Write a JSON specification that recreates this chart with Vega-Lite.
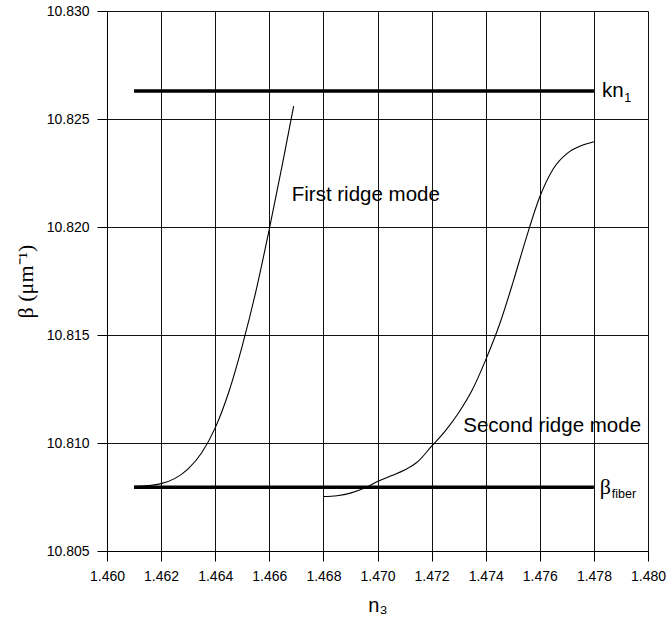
{
  "$schema": "https://vega.github.io/schema/vega-lite/v6.json",
  "width": 541,
  "height": 540,
  "autosize": {"type": "none"},
  "padding": {"left": 107, "top": 11, "right": 22, "bottom": 78},
  "background": "white",
  "config": {
    "view": {"stroke": null},
    "axis": {
      "domainColor": "black",
      "domainWidth": 1,
      "tickColor": "black",
      "tickSize": 10,
      "tickWidth": 1,
      "gridColor": "#111",
      "gridWidth": 1,
      "gridOpacity": 1,
      "labelFont": "Liberation Sans",
      "labelFontSize": 14,
      "labelColor": "black",
      "labelPadding": 8,
      "labelFlush": false,
      "labelOverlap": false,
      "titleColor": "black",
      "titleFontWeight": "normal"
    }
  },
  "datasets": {
    "curves": [
      {"series": "kn1", "x": 1.461, "y": 10.8263},
      {"series": "kn1", "x": 1.478, "y": 10.8263},
      {"series": "fiber", "x": 1.461, "y": 10.80795},
      {"series": "fiber", "x": 1.478, "y": 10.80795},
      {"series": "first", "x": 1.4610, "y": 10.80800},
      {"series": "first", "x": 1.4615, "y": 10.80803},
      {"series": "first", "x": 1.4620, "y": 10.80812},
      {"series": "first", "x": 1.4625, "y": 10.80835},
      {"series": "first", "x": 1.4630, "y": 10.80880},
      {"series": "first", "x": 1.4635, "y": 10.80955},
      {"series": "first", "x": 1.4640, "y": 10.81070},
      {"series": "first", "x": 1.4645, "y": 10.81235},
      {"series": "first", "x": 1.4650, "y": 10.81450},
      {"series": "first", "x": 1.4655, "y": 10.81700},
      {"series": "first", "x": 1.4660, "y": 10.81990},
      {"series": "first", "x": 1.4665, "y": 10.82300},
      {"series": "first", "x": 1.4669, "y": 10.82560},
      {"series": "second", "x": 1.4680, "y": 10.80752},
      {"series": "second", "x": 1.4685, "y": 10.80756},
      {"series": "second", "x": 1.4690, "y": 10.80768},
      {"series": "second", "x": 1.4695, "y": 10.80790},
      {"series": "second", "x": 1.4700, "y": 10.80822},
      {"series": "second", "x": 1.4705, "y": 10.80848},
      {"series": "second", "x": 1.4710, "y": 10.80875},
      {"series": "second", "x": 1.4715, "y": 10.80915},
      {"series": "second", "x": 1.4720, "y": 10.80985},
      {"series": "second", "x": 1.4725, "y": 10.81055},
      {"series": "second", "x": 1.4730, "y": 10.81140},
      {"series": "second", "x": 1.4735, "y": 10.81245},
      {"series": "second", "x": 1.4740, "y": 10.81385},
      {"series": "second", "x": 1.4745, "y": 10.81545},
      {"series": "second", "x": 1.4750, "y": 10.81740},
      {"series": "second", "x": 1.4755, "y": 10.81950},
      {"series": "second", "x": 1.4760, "y": 10.82140},
      {"series": "second", "x": 1.4765, "y": 10.82270},
      {"series": "second", "x": 1.4770, "y": 10.82340},
      {"series": "second", "x": 1.4775, "y": 10.82375},
      {"series": "second", "x": 1.4780, "y": 10.82395}
    ],
    "labels": [
      {"label": "kn", "x": 1.4783, "y": 10.8263},
      {"label": "First ridge mode", "x": 1.46683, "y": 10.82148},
      {"label": "Second ridge mode", "x": 1.47317, "y": 10.8108}
    ],
    "beta": [
      {"label": "β", "x": 1.47822, "y": 10.80795}
    ],
    "subs": [
      {"label": "1", "x": 1.47912, "y": 10.8263},
      {"label": "fiber", "x": 1.47866, "y": 10.80795}
    ]
  },
  "encoding": {
    "x": {
      "field": "x",
      "type": "quantitative",
      "scale": {"domain": [1.46, 1.48], "nice": false, "zero": false},
      "axis": {
        "values": [1.46, 1.462, 1.464, 1.466, 1.468, 1.47, 1.472, 1.474, 1.476, 1.478, 1.48],
        "format": ".3f",
        "grid": true,
        "title": "n₃",
        "titleFont": "Liberation Sans",
        "titleFontSize": 20,
        "titlePadding": 12
      }
    },
    "y": {
      "field": "y",
      "type": "quantitative",
      "scale": {"domain": [10.805, 10.83], "nice": false, "zero": false},
      "axis": {
        "values": [10.805, 10.81, 10.815, 10.82, 10.825, 10.83],
        "format": ".3f",
        "grid": true,
        "title": "β (μm⁻¹)",
        "titleFont": "Liberation Serif",
        "titleFontSize": 22,
        "titlePadding": 9
      }
    }
  },
  "layer": [
    {
      "data": {"name": "curves"},
      "transform": [{"filter": "datum.series === 'kn1' || datum.series === 'fiber'"}],
      "mark": {"type": "line", "color": "black", "strokeWidth": 3.5, "strokeCap": "butt"},
      "encoding": {"detail": {"field": "series"}}
    },
    {
      "data": {"name": "curves"},
      "transform": [{"filter": "datum.series === 'first' || datum.series === 'second'"}],
      "mark": {"type": "line", "color": "black", "strokeWidth": 1.1, "interpolate": "monotone"},
      "encoding": {"detail": {"field": "series"}}
    },
    {
      "data": {"name": "labels"},
      "mark": {"type": "text", "align": "left", "baseline": "middle", "font": "Liberation Sans", "fontSize": 20.5, "color": "black"},
      "encoding": {"text": {"field": "label"}}
    },
    {
      "data": {"name": "beta"},
      "mark": {"type": "text", "align": "left", "baseline": "middle", "font": "Liberation Serif", "fontSize": 22, "color": "black"},
      "encoding": {"text": {"field": "label"}}
    },
    {
      "data": {"name": "subs"},
      "mark": {"type": "text", "align": "left", "baseline": "middle", "font": "Liberation Sans", "fontSize": 12.5, "dy": 7, "color": "black"},
      "encoding": {"text": {"field": "label"}}
    }
  ]
}
